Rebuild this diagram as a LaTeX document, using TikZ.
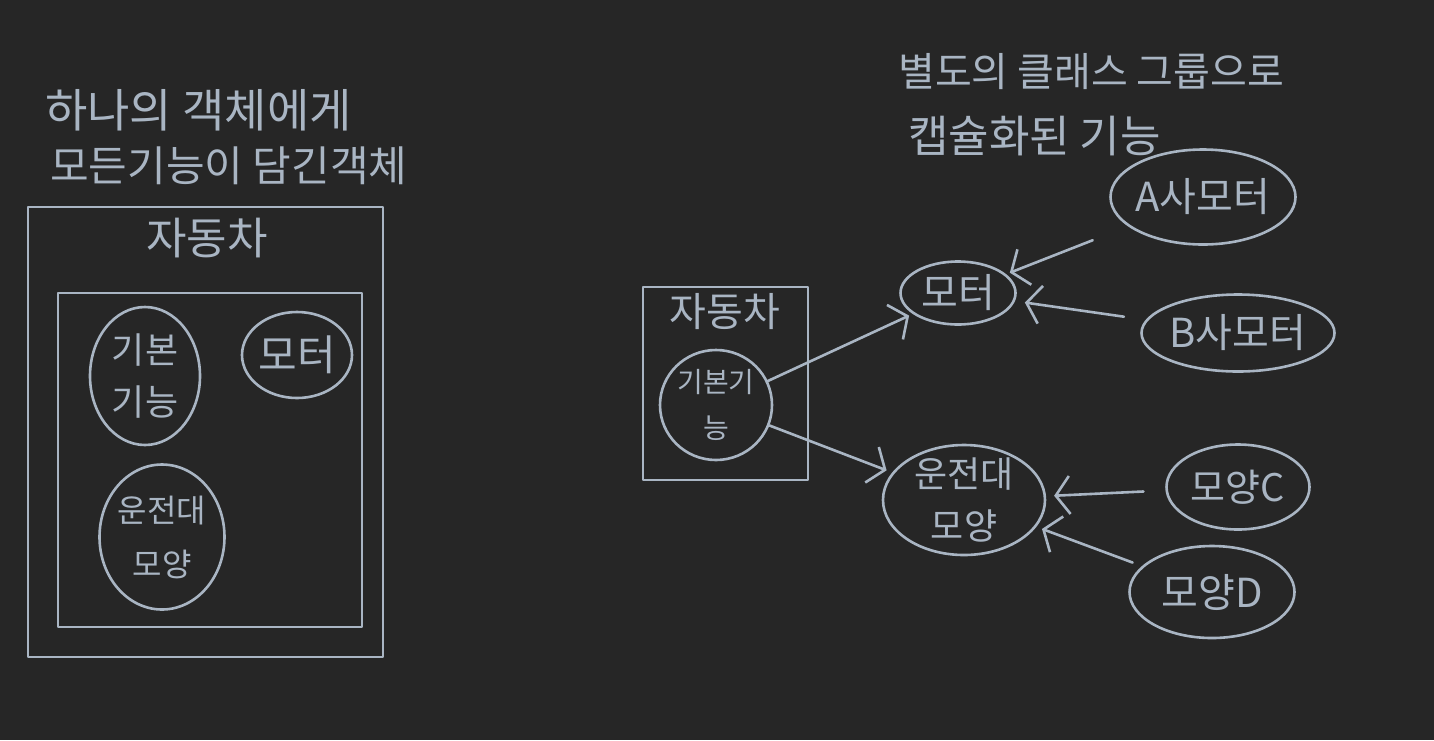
\documentclass[tikz,border=0pt]{standalone}
\usepackage{fontspec}
\setmainfont{Noto Sans CJK KR}
\usetikzlibrary{arrows.meta,shapes.geometric}
\definecolor{bg}{HTML}{262626}
\definecolor{ink}{HTML}{A9B5C3}
\begin{document}
\begin{tikzpicture}[x=1pt,y=-1pt,
  pen/.style={draw=ink, line width=2.6pt, line cap=round, line join=round},
  lbl/.style={text=ink, font=\fontsize{36}{52}\selectfont, align=center, inner sep=0pt},
  ttl/.style={text=ink, anchor=west, inner sep=0pt},
  blob/.style={pen, ellipse, inner sep=0pt},
  boxn/.style={pen, rectangle, inner sep=0pt},
  arr/.style={pen, -{Straight Barb[length=14pt,width=38pt,line width=2.6pt]}}]
\useasboundingbox[fill=bg] (0,0) rectangle (1434,740);

% ---------- left: one object with every function ----------
\node[ttl, font=\fontsize{46}{50}\selectfont] (tl1) at (45,110) {하나의 객체에게};
\node[ttl, font=\fontsize{42}{50}\selectfont] (tl2) at (50,166) {모든기능이 담긴객체};

\node[boxn, minimum width=355pt, minimum height=450pt] (carL) at (205.5,432) {};
\node[lbl, font=\fontsize{44}{48}\selectfont] (carLt) at (207,238) {자동차};
\node[boxn, minimum width=304pt, minimum height=334pt] (innerL) at (210,460) {};

\node[blob, minimum width=110pt, minimum height=138pt] (basicL) at (145,376) {};
\node[lbl] (basicLt) at (basicL) {기본\\기능};
\node[blob, minimum width=110pt, minimum height=86pt] (motorL) at (297,355) {};
\node[lbl, font=\fontsize{42}{50}\selectfont] (motorLt) at (motorL) {모터};
\node[blob, minimum width=125pt, minimum height=145pt] (wheelL) at (162,537) {};
\node[lbl, font=\fontsize{32}{54}\selectfont] (wheelLt) at (wheelL) {운전대\\모양};

% ---------- right: functions encapsulated in class groups ----------
\node[ttl, font=\fontsize{40}{50}\selectfont] (tr1) at (898,72) {별도의 클래스 그룹으로};
\node[ttl, font=\fontsize{44}{50}\selectfont] (tr2) at (908,136) {캡슐화된 기능};

\node[boxn, minimum width=165pt, minimum height=193pt] (carR) at (725.5,383.5) {};
\node[lbl, font=\fontsize{40}{44}\selectfont] (carRt) at (725,312) {자동차};
\node[blob, minimum width=112pt, minimum height=110pt] (basicR) at (716,405) {};
\node[lbl, font=\fontsize{28}{46}\selectfont] (basicRt) at (basicR) {기본기\\능};

\node[blob, minimum width=115pt, minimum height=63pt] (motorR) at (958,293) {};
\node[lbl, font=\fontsize{40}{48}\selectfont] (motorRt) at (motorR) {모터};
\node[blob, minimum width=162pt, minimum height=110pt] (wheelR) at (964,500) {};
\node[lbl] (wheelRt) at (wheelR) {운전대\\모양};

\node[blob, minimum width=185pt, minimum height=95pt] (aR) at (1203,197) {};
\node[lbl, font=\fontsize{40}{48}\selectfont] (aRt) at (aR) {A사모터};
\node[blob, minimum width=193pt, minimum height=77pt] (bR) at (1238,333) {};
\node[lbl, font=\fontsize{40}{48}\selectfont] (bRt) at (bR) {B사모터};
\node[blob, minimum width=143pt, minimum height=85pt] (cR) at (1238,487) {};
\node[lbl, font=\fontsize{38}{48}\selectfont] (cRt) at (cR) {모양C};
\node[blob, minimum width=165pt, minimum height=92pt] (dR) at (1212,592) {};
\node[lbl, font=\fontsize{40}{48}\selectfont] (dRt) at (dR) {모양D};

% ---------- connectors ----------
\draw[arr, shorten >=4pt] (basicR) -- (motorR);
\draw[arr, shorten >=6pt] (basicR) -- (wheelR);
\draw[arr, shorten <=38pt, shorten >=4pt] (aR) -- (motorR);
\draw[arr, shorten <=22pt, shorten >=10pt] (bR) -- (motorR);
\draw[arr, shorten <=22pt, shorten >=8pt] (cR) -- (wheelR);
\draw[arr, shorten <=10pt, shorten >=6pt] (dR) -- (wheelR);
\end{tikzpicture}
\end{document}
